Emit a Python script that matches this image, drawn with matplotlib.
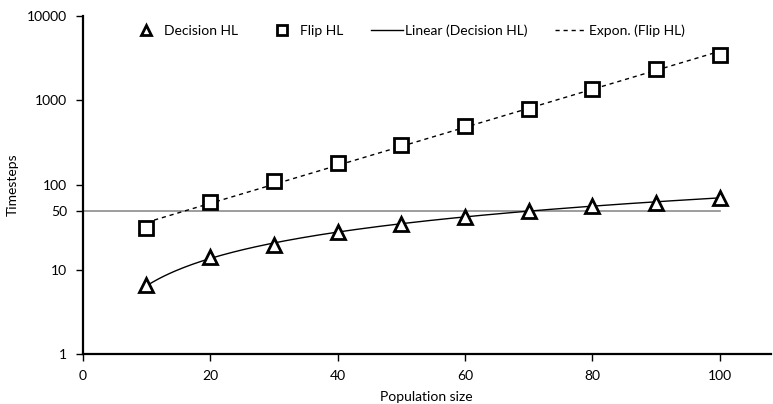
import numpy as np
import matplotlib
matplotlib.use("Agg")
import matplotlib.pyplot as plt

# population sizes and measured half-lives
pop_size = [10, 20, 30, 40, 50, 60, 70, 80, 90, 100]
decision_hl = [6.6, 14, 19.5, 28, 35, 42, 49.6, 57, 62, 71]
flip_hl = [30.7, 63, 111, 180, 296, 496, 781, 1380, 2320, 3480]
ref_level = 50
y_ticks = [1, 10, 50, 100, 1000, 10000]
x_ticks = [0, 20, 40, 60, 80, 100]

plt.rcParams['font.family'] = ['Lato', 'DejaVu Sans']
plt.rcParams['font.size'] = 10

x = np.array(pop_size, dtype=float)

# trend lines: linear for decision, exponential for flip
lin = np.polyfit(x, decision_hl, 1)
expo = np.polyfit(x, np.log(flip_hl), 1)
xs = np.linspace(x.min(), x.max(), 200)

fig = plt.figure(figsize=(7.73, 4.04), dpi=100)
ax = fig.add_axes([0.107, 0.123, 0.890, 0.838])

ax.plot([0, 100], [ref_level, ref_level], color='#8c8c8c', lw=1.2, zorder=1)

ax.plot(x, decision_hl, linestyle='none', marker='^', ms=10.5, mfc='white',
        mec='black', mew=2, label='Decision HL', zorder=3)
ax.plot(x, flip_hl, linestyle='none', marker='s', ms=9.5, mfc='white',
        mec='black', mew=2, label='Flip HL', zorder=3)
ax.plot(xs, np.polyval(lin, xs), color='black', lw=1,
        label='Linear (Decision HL)', zorder=2)
ax.plot(xs, np.exp(np.polyval(expo, xs)), color='black', lw=1,
        linestyle=(0, (3, 2.8)), label='Expon. (Flip HL)', zorder=2)

ax.set_yscale('log')
ax.set_ylim(1, 10000)
ax.set_xlim(0, 108)
ax.set_yticks(y_ticks)
ax.set_yticklabels([str(v) for v in y_ticks])
ax.yaxis.set_minor_locator(matplotlib.ticker.NullLocator())
ax.set_xticks(x_ticks)

for side in ['top', 'right']:
    ax.spines[side].set_visible(False)
for side in ['left', 'bottom']:
    ax.spines[side].set_linewidth(1.6)
ax.tick_params(direction='out', length=5, width=1, pad=6)

ax.set_xlabel('Population size', labelpad=7)
ax.set_ylabel('Timesteps', labelpad=6)

ax.legend(loc='center left', bbox_to_anchor=(0.168, 1 - 31 / 404),
          bbox_transform=fig.transFigure, ncol=4, frameon=False,
          borderpad=0, borderaxespad=0, handlelength=2.3,
          columnspacing=2.0, handletextpad=0.15, markerscale=0.7)

plt.savefig('out.png', dpi=100)
